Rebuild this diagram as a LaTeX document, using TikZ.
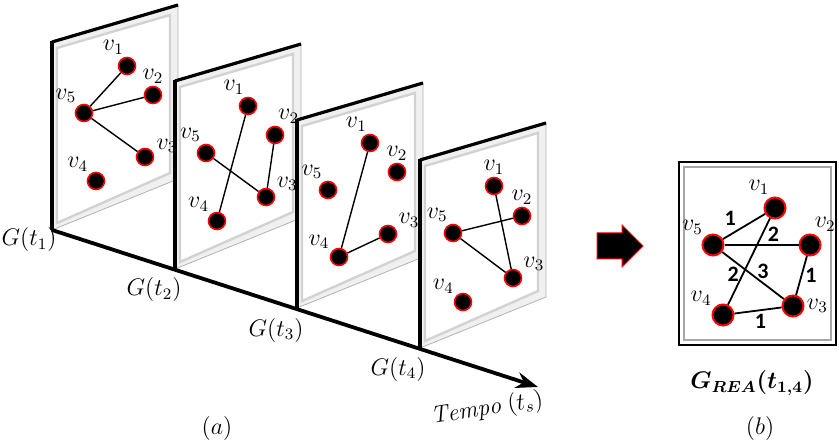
\documentclass[tikz,border=0pt]{standalone}
\usepackage{fontspec}
\newfontfamily\calib{Carlito}
\usetikzlibrary{positioning,arrows.meta}

\begin{document}
\begin{tikzpicture}[x=0.5pt, y=-0.5pt,
  vtx/.style={circle, fill=black, draw=red, line width=0.8pt, minimum size=8.5pt, inner sep=0pt},
  vtxb/.style={vtx, minimum size=10.5pt, line width=1pt},
  lbl/.style={font=\large, inner sep=1pt},
  edg/.style={line width=0.7pt},
  edgb/.style={line width=0.9pt},
  wlbl/.style={font=\calib\bfseries\fontsize{11}{13}\selectfont, inner sep=1.5pt},
  tlbl/.style={font=\large},
  axis/.style={line width=1.9pt, -{Stealth[length=11pt,width=8pt]}},
  panel/.pic={
    \filldraw[fill=gray!12, draw=gray!60, line width=0.4pt] (0,0) -- (126,-37) -- (126,137) -- (0,188) -- cycle;
    \filldraw[fill=white, draw=gray!35, line width=1.2pt] (5,6) -- (118,-27) -- (118,131) -- (5,181) -- cycle;
    \draw[line width=1.6pt] (0,0) -- (126,-37);
    \draw[line width=2.4pt] (0,-1) -- (0,188);
    \coordinate (-bl) at (0,188);
  }]
\useasboundingbox (0,0) rectangle (839,448);

% G(t1)
\pic (f1) at (52,42) {panel};
\node[vtx, label={[lbl]95:$v_1$}] (a1) at (127,66) {};
\node[vtx, label={[lbl]90:$v_2$}] (a2) at (153,95) {};
\node[vtx, label={[lbl]10:$v_3$}] (a3) at (145,157) {};
\node[vtx, label={[lbl]126:$v_4$}] (a4) at (96,181) {};
\node[vtx, label={[lbl]125:$v_5$}] (a5) at (84,113) {};
\draw[edg] (a5) -- (a1);
\draw[edg] (a5) -- (a2);
\draw[edg] (a5) -- (a3);

% G(t2)
\pic (f2) at (175,81) {panel};
\node[vtx, label={[lbl]97:$v_1$}] (b1) at (248,106) {};
\node[vtx, label={[lbl]85:$v_2$}] (b2) at (275,135) {};
\node[vtx, label={[lbl]25:$v_3$}] (b3) at (266,197) {};
\node[vtx, label={[lbl]127:$v_4$}] (b4) at (217,221) {};
\node[vtx, label={[lbl]107:$v_5$}] (b5) at (206,153) {};
\draw[edg] (b1) -- (b4);
\draw[edg] (b2) -- (b3);
\draw[edg] (b5) -- (b3);

% G(t3)
\pic (f3) at (297,120) {panel};
\node[vtx, label={[lbl]95:$v_1$}] (c1) at (370,143) {};
\node[vtx, label={[lbl]90:$v_2$}] (c2) at (397,172) {};
\node[vtx, label={[lbl]28:$v_3$}] (c3) at (388,234) {};
\node[vtx, label={[lbl]140:$v_4$}] (c4) at (339,257) {};
\node[vtx, label={[lbl]110:$v_5$}] (c5) at (328,190) {};
\draw[edg] (c1) -- (c4);
\draw[edg] (c4) -- (c3);

% G(t4)
\pic (f4) at (420,160) {panel};
\node[vtx, label={[lbl]90:$v_1$}] (d1) at (494,186) {};
\node[vtx, label={[lbl]90:$v_2$}] (d2) at (522,216) {};
\node[vtx, label={[lbl]30:$v_3$}] (d3) at (513,278) {};
\node[vtx, label={[lbl]137:$v_4$}] (d4) at (463,302) {};
\node[vtx, label={[lbl]108:$v_5$}] (d5) at (453,233) {};
\draw[edg] (d1) -- (d3);
\draw[edg] (d5) -- (d2);
\draw[edg] (d5) -- (d3);

% time axis
\coordinate (tend) at (538,387);
\draw[axis] (f1-bl) -- (tend);
\node[tlbl] (gt1) at (29,240) {$G(t_1)$};
\node[tlbl] (gt2) at (154,290) {$G(t_2)$};
\node[tlbl] (gt3) at (276,330) {$G(t_3)$};
\node[tlbl] (gt4) at (398,369) {$G(t_4)$};
\node[tlbl, rotate=9] (tempo) at (487,409) {$\mathit{Tempo}\;(t_s)$};
\node[tlbl] (capa) at (217,428) {$(a)$};

% arrow
\filldraw[fill=black, draw=red, line width=0.5pt] (597,233) -- (622,233) -- (622,225) -- (643,246) -- (622,267) -- (622,259) -- (597,259) -- cycle;

% G_REA
\draw[line width=1pt] (679,162) rectangle (836,345);
\draw[gray!70, line width=0.6pt] (684,167) rectangle (831,340);
\node[vtxb, label={[lbl]106:$v_1$}] (r1) at (775,208) {};
\node[vtxb, label={[lbl]78:$v_2$}] (r2) at (810,245) {};
\node[vtxb, label={[lbl]0:$v_3$}] (r3) at (793,306) {};
\node[vtxb, label={[lbl]142:$v_4$}] (r4) at (723,315) {};
\node[vtxb, label={[lbl]132:$v_5$}] (r5) at (713,245) {};
\draw[edgb] (r5) -- node[wlbl, pos=.4, above left] {1} (r1);
\draw[edgb] (r5) -- node[wlbl, pos=.66, above] {2} (r2);
\draw[edgb] (r5) -- node[wlbl, pos=.66, above] {3} (r3);
\draw[edgb] (r1) -- node[wlbl, pos=.65, left] {2} (r4);
\draw[edgb] (r2) -- node[wlbl, pos=.5, right] {1} (r3);
\draw[edgb] (r4) -- node[wlbl, pos=.55, below] {1} (r3);
\node[font=\large\boldmath] (grea) at (752,383) {$G_{REA}(t_{1,4})$};
\node[tlbl] (capb) at (760,428) {$(b)$};
\end{tikzpicture}
\end{document}
